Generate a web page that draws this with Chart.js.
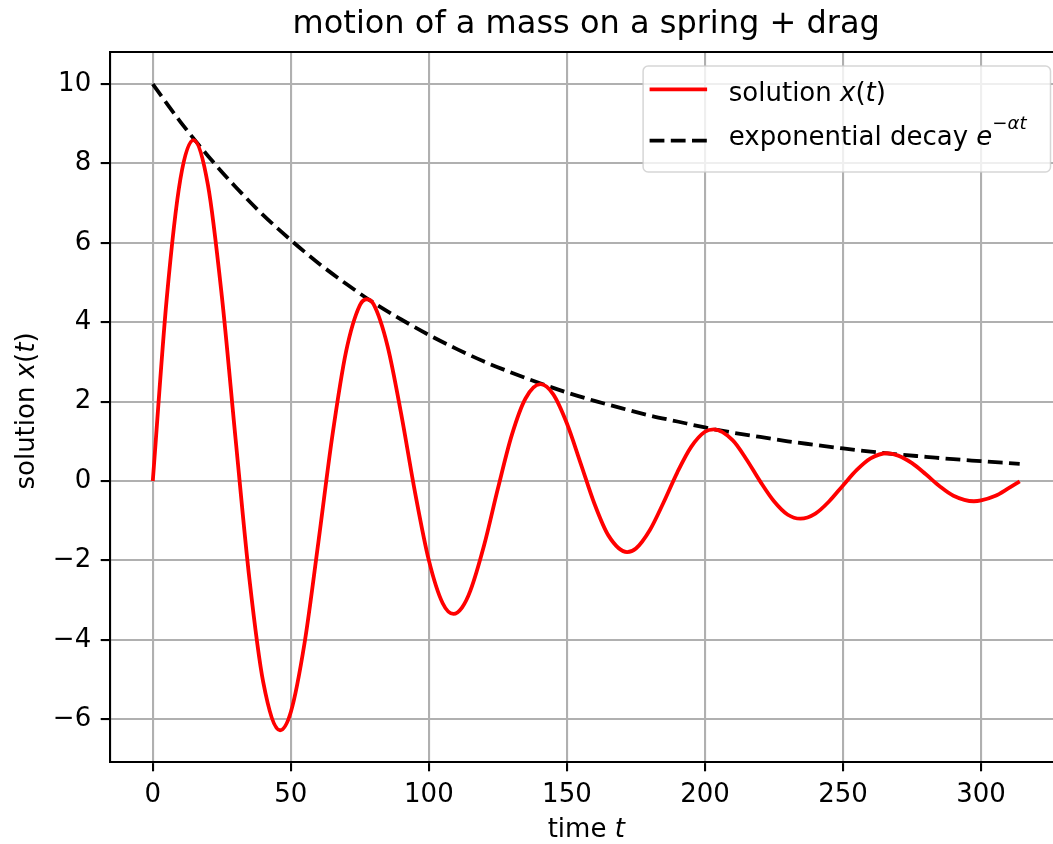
<!DOCTYPE html>
<html>
<head>
<meta charset="utf-8">
<title>motion of a mass on a spring + drag</title>
<script src="https://cdn.jsdelivr.net/npm/chart.js@4.4.1/dist/chart.umd.min.js"></script>
<style>
  html, body { margin: 0; padding: 0; background: #fff; overflow: hidden; }
  #wrap { width: 1053px; height: 844px; overflow: hidden; }
  canvas { display: block; }
</style>
</head>
<body>
<div id="wrap"><canvas id="chart" width="1075" height="844"></canvas></div>
<script>
// time samples for the oscillating solution (turning points included)
const timeSteps = [
  0, 5, 10, 14.7, 20, 25, 30, 35, 40, 46.1, 50, 55, 60, 65, 70, 75, 77.5, 80, 85, 90, 95,
  100, 105, 108.9, 112, 115, 120, 125, 130, 135, 140.4, 145, 150, 155, 160, 165, 171.8, 175,
  180, 185, 190, 195, 200, 203.2, 210, 215, 220, 225, 230, 234.6, 240, 245, 250, 255,
  260, 266, 270, 275, 280, 285, 290, 297.4, 300, 305, 310, 314
];
const solutionValues = [
  0, 4.56, 7.61, 8.59, 7.45, 4.66, 1.05, -2.47, -5.07, -6.28, -5.82, -4.07, -1.53, 1.12, 3.26, 4.43, 4.58, 4.45, 3.41, 1.68, -0.29,
  -2.00, -3.08, -3.35, -3.19, -2.77, -1.62, -0.19, 1.15, 2.08, 2.44, 2.19, 1.45, 0.44, -0.58, -1.37, -1.79, -1.70,
  -1.24, -0.54, 0.22, 0.86, 1.24, 1.30, 1.03, 0.55, -0.01, -0.51, -0.85, -0.95, -0.82, -0.51, -0.11, 0.28,
  0.57, 0.70, 0.64, 0.45, 0.17, -0.13, -0.37, -0.51, -0.49, -0.38, -0.18, -0.01
];
// time samples for the decay envelope
const decayTimes = [
  0, 10, 20, 30, 40, 50, 60, 70, 80, 90, 100, 110, 120, 130, 140, 150,
  160, 170, 180, 190, 200, 210, 220, 230, 240, 250, 260, 270, 280, 290, 300, 310, 314
];
const decayValues = [
  10, 9.05, 8.19, 7.41, 6.70, 6.07, 5.49, 4.97, 4.49, 4.07, 3.68, 3.33, 3.01, 2.73, 2.47, 2.23,
  2.02, 1.83, 1.65, 1.50, 1.35, 1.22, 1.11, 1.00, 0.91, 0.82, 0.74, 0.67, 0.61, 0.55, 0.50, 0.45, 0.43
];
const xTicks = [0, 50, 100, 150, 200, 250, 300];
const yTicks = [-6, -4, -2, 0, 2, 4, 6, 8, 10];

const FONT = '"DejaVu Sans", sans-serif';

const solutionPoints = timeSteps.map((t, i) => ({ x: t, y: solutionValues[i] }));
const decayPoints = decayTimes.map((t, i) => ({ x: t, y: decayValues[i] }));

// draw a run of text pieces, some italic or raised, starting at x on baseline y
function drawParts(ctx, parts, x, y, size) {
  let cx = x;
  parts.forEach(p => {
    const s = p.sup ? size * 0.7 : size;
    ctx.font = (p.it ? 'italic ' : '') + s + 'px ' + FONT;
    ctx.fillText(p.t, cx, y - (p.sup ? size * 0.62 : 0));
    cx += ctx.measureText(p.t).width;
  });
  return cx;
}
function partsWidth(ctx, parts, size) {
  let w = 0;
  parts.forEach(p => {
    const s = p.sup ? size * 0.7 : size;
    ctx.font = (p.it ? 'italic ' : '') + s + 'px ' + FONT;
    w += ctx.measureText(p.t).width;
  });
  return w;
}

const xLabel = [{ t: 'time ' }, { t: 't', it: true }];
const yLabel = [{ t: 'solution ' }, { t: 'x', it: true }, { t: '(' }, { t: 't', it: true }, { t: ')' }];
const legendRows = [
  [{ t: 'solution ' }, { t: 'x', it: true }, { t: '(' }, { t: 't', it: true }, { t: ')' }],
  [{ t: 'exponential decay ' }, { t: 'e', it: true }, { t: '\u2212', sup: true }, { t: '\u03b1', it: true, sup: true }, { t: 't', it: true, sup: true }]
];

// axis labels, closed frame and legend box
const extras = {
  id: 'extras',
  afterDatasetsDraw(chart) {
    const ctx = chart.ctx;
    const a = chart.chartArea;
    ctx.save();
    ctx.fillStyle = '#000';
    ctx.textBaseline = 'alphabetic';
    ctx.textAlign = 'left';

    // top and right spines
    ctx.strokeStyle = '#000';
    ctx.lineWidth = 2.1;
    ctx.beginPath();
    ctx.moveTo(a.left, a.top);
    ctx.lineTo(a.right, a.top);
    ctx.lineTo(a.right, a.bottom);
    ctx.stroke();

    // x label
    const xw = partsWidth(ctx, xLabel, 26);
    drawParts(ctx, xLabel, (a.left + a.right) / 2 - xw / 2, 837, 26);

    // y label, rotated
    const yw = partsWidth(ctx, yLabel, 26);
    ctx.save();
    ctx.translate(34, (a.top + a.bottom) / 2 + 4);
    ctx.rotate(-Math.PI / 2);
    drawParts(ctx, yLabel, -yw / 2, 0, 26);
    ctx.restore();

    // legend frame
    const bx = a.right - 12 - 407.4, by = a.top + 14, bw = 407.4, bh = 106;
    ctx.beginPath();
    ctx.roundRect(bx, by, bw, bh, 5);
    ctx.fillStyle = 'rgba(255,255,255,0.8)';
    ctx.fill();
    ctx.strokeStyle = 'rgba(204,204,204,0.8)';
    ctx.lineWidth = 1.5;
    ctx.stroke();

    // legend handles
    ctx.lineCap = 'butt';
    ctx.lineWidth = 3.8;
    ctx.strokeStyle = '#ff0000';
    ctx.beginPath();
    ctx.moveTo(bx + 6.5, by + 23.3);
    ctx.lineTo(bx + 64, by + 23.3);
    ctx.stroke();
    ctx.strokeStyle = '#000';
    ctx.setLineDash([14.8, 6.4]);
    ctx.beginPath();
    ctx.moveTo(bx + 6.5, by + 74.7);
    ctx.lineTo(bx + 64, by + 74.7);
    ctx.stroke();
    ctx.setLineDash([]);

    // legend text
    ctx.fillStyle = '#000';
    drawParts(ctx, legendRows[0], bx + 85.7, by + 35.3, 26);
    drawParts(ctx, legendRows[1], bx + 85.7, by + 79.3, 26);
    ctx.restore();
  }
};

const ctx = document.getElementById('chart').getContext('2d');
new Chart(ctx, {
  type: 'line',
  data: {
    datasets: [
      {
        label: 'solution x(t)',
        data: solutionPoints,
        borderColor: '#ff0000',
        borderWidth: 3.8,
        pointRadius: 0,
        cubicInterpolationMode: 'monotone',
        fill: false
      },
      {
        label: 'exponential decay',
        data: decayPoints,
        borderColor: '#000000',
        borderWidth: 3.8,
        borderDash: [14.8, 6.4],
        borderCapStyle: 'butt',
        pointRadius: 0,
        cubicInterpolationMode: 'monotone',
        fill: false
      }
    ]
  },
  options: {
    responsive: false,
    animation: false,
    devicePixelRatio: 1,
    layout: { padding: { left: 0, right: 12.5, top: 0, bottom: 0 } },
    plugins: {
      legend: { display: false },
      tooltip: { enabled: false },
      title: {
        display: true,
        fullSize: false,
        text: 'motion of a mass on a spring + drag',
        color: '#000',
        font: { family: FONT, size: 32, weight: 'normal' },
        padding: { top: 5.7, bottom: 7.9 }
      }
    },
    scales: {
      x: {
        type: 'linear',
        min: -15.5,
        max: 329.5,
        afterBuildTicks: s => { s.ticks = xTicks.map(v => ({ value: v })); },
        afterFit: s => { s.height = 82; },
        grid: { color: '#b0b0b0', lineWidth: 2.1, tickColor: '#000', tickWidth: 2.1, tickLength: 9.3 },
        border: { color: '#000', width: 2.1 },
        ticks: {
          color: '#000',
          font: { family: FONT, size: 26 },
          padding: 8,
          maxRotation: 0,
          callback: v => (v < 0 ? '\u2212' + Math.abs(v) : String(v))
        }
      },
      y: {
        type: 'linear',
        min: -7.08,
        max: 10.81,
        afterBuildTicks: s => { s.ticks = yTicks.map(v => ({ value: v })); },
        afterFit: s => { s.width = 110; },
        grid: { color: '#b0b0b0', lineWidth: 2.1, tickColor: '#000', tickWidth: 2.1, tickLength: 9.3 },
        border: { color: '#000', width: 2.1 },
        ticks: {
          color: '#000',
          font: { family: FONT, size: 26 },
          padding: 9.5,
          callback: v => (v < 0 ? '\u2212' + Math.abs(v) : String(v))
        }
      }
    }
  },
  plugins: [extras]
});
</script>
</body>
</html>
